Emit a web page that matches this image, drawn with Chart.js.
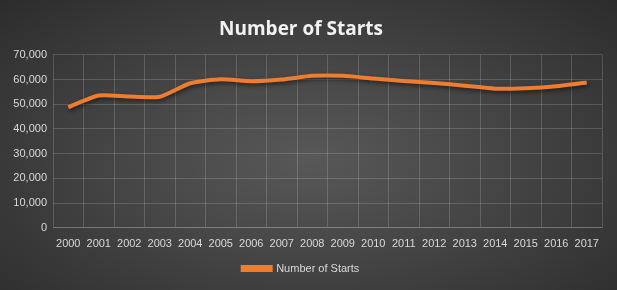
<!DOCTYPE html>
<html>
<head>
<meta charset="utf-8">
<script src="https://cdn.jsdelivr.net/npm/chart.js@4/dist/chart.umd.min.js"></script>
<style>
    html, body { margin: 0; padding: 0; background: #2b2b2b; }
    #wrap {
        width: 617px; height: 290px; position: relative;
        background: radial-gradient(ellipse at 50% 55%, #585858 0%, #474747 40%, #2c2c2c 100%);
    }
</style>
</head>
<body>
<div id="wrap"><canvas id="startsChart" width="617" height="290"></canvas></div>
<script>
// --- Data ---
const years = ['2000', '2001', '2002', '2003', '2004', '2005', '2006', '2007', '2008',
    '2009', '2010', '2011', '2012', '2013', '2014', '2015', '2016', '2017'];
const starts = [48800, 53500, 53100, 53000, 58500, 60100, 59300, 60000, 61500,
    61500, 60400, 59400, 58600, 57500, 56300, 56500, 57300, 58800];
const yTicks = [0, 10000, 20000, 30000, 40000, 50000, 60000, 70000];

const lineColor = '#ED7D31';
const textColor = '#d9d9d9';
const gridColor = 'rgba(255,255,255,0.16)';

// soft shadow under the line, like the Excel effect
const shadows = {
    id: 'shadows',
    beforeDatasetsDraw(chart) {
        const ctx = chart.ctx;
        ctx.save();
        ctx.shadowColor = 'rgba(0,0,0,0.55)';
        ctx.shadowBlur = 4;
        ctx.shadowOffsetX = 1;
        ctx.shadowOffsetY = 2;
    },
    afterDatasetsDraw(chart) {
        chart.ctx.restore();
    }
};

const ctx = document.getElementById('startsChart').getContext('2d');
const startsChart = new Chart(ctx, {
    type: 'line',
    data: {
        labels: years,
        datasets: [{
            label: 'Number of Starts',
            data: starts,
            borderColor: lineColor,
            backgroundColor: lineColor,
            borderWidth: 4,
            pointRadius: 0,
            tension: 0.2,
            fill: false
        }]
    },
    options: {
        responsive: false,
        animation: false,
        layout: { padding: { left: 0, right: 15, top: 0, bottom: 6 } },
        scales: {
            x: {
                offset: true,
                grid: { color: gridColor, offset: true, drawTicks: false },
                border: { color: gridColor },
                ticks: {
                    color: textColor,
                    font: { family: 'Liberation Sans', size: 11 },
                    padding: 10,
                    maxRotation: 0,
                    autoSkip: false
                }
            },
            y: {
                min: 0,
                max: 70000,
                afterBuildTicks(scale) {
                    scale.ticks = yTicks.map(v => ({ value: v }));
                },
                afterFit(scale) { scale.width = 53; },
                grid: { color: gridColor, drawTicks: false },
                border: { display: false },
                ticks: {
                    color: textColor,
                    font: { family: 'Liberation Sans', size: 11 },
                    padding: 6,
                    callback: v => v.toLocaleString('en-US')
                }
            }
        },
        plugins: {
            title: {
                display: true,
                text: 'Number of Starts',
                color: '#f2f2f2',
                font: { family: 'Open Sans', size: 19, weight: 'bold' },
                padding: { top: 18, bottom: 14 }
            },
            legend: {
                position: 'bottom',
                labels: {
                    color: textColor,
                    font: { family: 'Liberation Sans', size: 11 },
                    boxWidth: 28,
                    boxHeight: 3,
                    padding: 2
                }
            },
            tooltip: { enabled: false }
        }
    },
    plugins: [shadows]
});
</script>
</body>
</html>
